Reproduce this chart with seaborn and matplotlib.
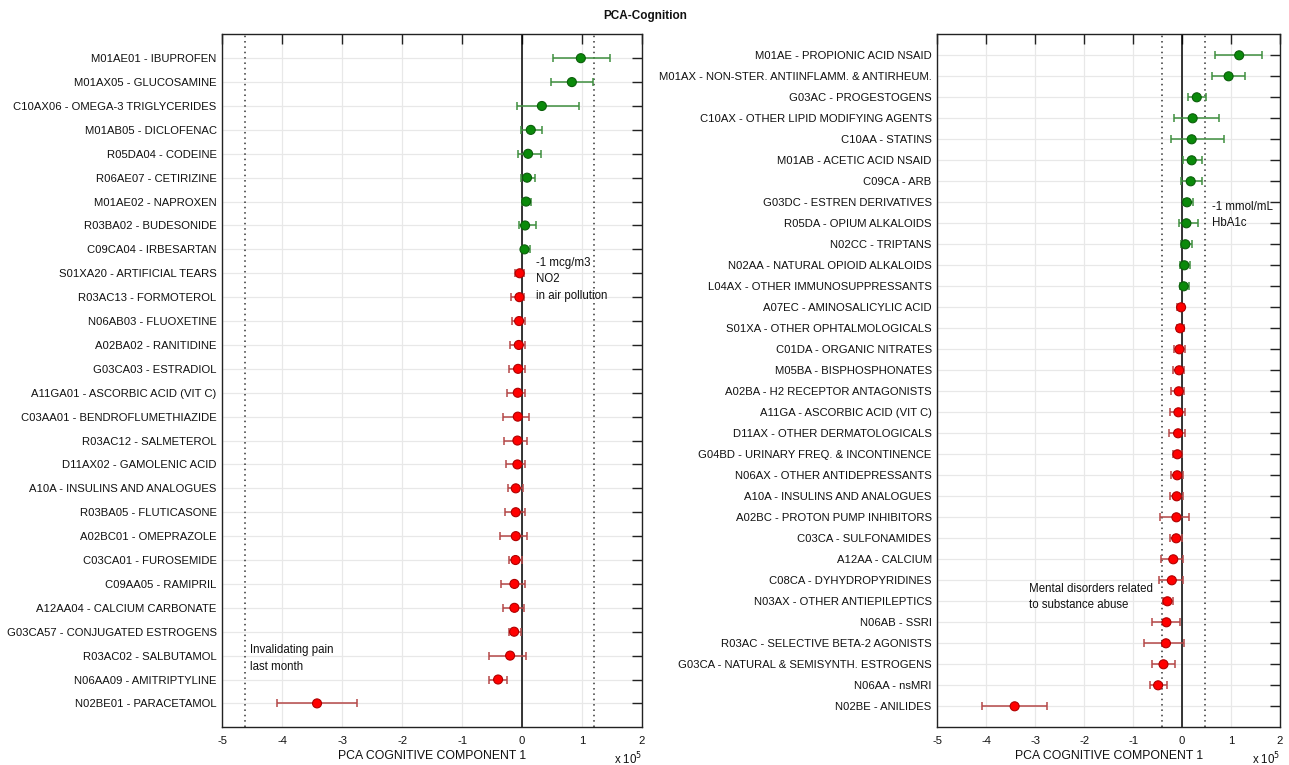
import numpy as np
import pandas as pd
import matplotlib
matplotlib.use("Agg")
import matplotlib.pyplot as plt
import seaborn as sns

# ---------------- data (units of 1e5) ----------------
left_labels = [
    "M01AE01 - IBUPROFEN", "M01AX05 - GLUCOSAMINE", "C10AX06 - OMEGA-3 TRIGLYCERIDES",
    "M01AB05 - DICLOFENAC", "R05DA04 - CODEINE", "R06AE07 - CETIRIZINE",
    "M01AE02 - NAPROXEN", "R03BA02 - BUDESONIDE", "C09CA04 - IRBESARTAN",
    "S01XA20 - ARTIFICIAL TEARS", "R03AC13 - FORMOTEROL", "N06AB03 - FLUOXETINE",
    "A02BA02 - RANITIDINE", "G03CA03 - ESTRADIOL", "A11GA01 - ASCORBIC ACID (VIT C)",
    "C03AA01 - BENDROFLUMETHIAZIDE", "R03AC12 - SALMETEROL", "D11AX02 - GAMOLENIC ACID",
    "A10A - INSULINS AND ANALOGUES", "R03BA05 - FLUTICASONE", "A02BC01 - OMEPRAZOLE",
    "C03CA01 - FUROSEMIDE", "C09AA05 - RAMIPRIL", "A12AA04 - CALCIUM CARBONATE",
    "G03CA57 - CONJUGATED ESTROGENS", "R03AC02 - SALBUTAMOL", "N06AA09 - AMITRIPTYLINE",
    "N02BE01 - PARACETAMOL",
]
left_est = [0.98, 0.83, 0.33, 0.145, 0.10, 0.083, 0.067, 0.05, 0.04,
            -0.04, -0.045, -0.05, -0.055, -0.067, -0.072, -0.072, -0.078, -0.078,
            -0.105, -0.105, -0.105, -0.11, -0.128, -0.128, -0.133, -0.20, -0.40, -3.42]
left_lo = [0.51, 0.48, -0.09, -0.02, -0.06, -0.02, 0.0, -0.055, 0.0,
           -0.12, -0.18, -0.17, -0.20, -0.22, -0.255, -0.32, -0.30, -0.26,
           -0.23, -0.29, -0.37, -0.22, -0.35, -0.32, -0.22, -0.55, -0.55, -4.08]
left_hi = [1.46, 1.19, 0.955, 0.33, 0.32, 0.21, 0.155, 0.23, 0.14,
           0.03, 0.033, 0.05, 0.05, 0.045, 0.05, 0.11, 0.08, 0.05,
           0.017, 0.05, 0.08, 0.0, 0.05, 0.033, -0.017, 0.067, -0.25, -2.76]
left_thresholds = [-4.62, 1.195]

right_labels = [
    "M01AE - PROPIONIC ACID NSAID", "M01AX - NON-STER. ANTIINFLAMM. & ANTIRHEUM.",
    "G03AC - PROGESTOGENS", "C10AX - OTHER LIPID MODIFYING AGENTS", "C10AA - STATINS",
    "M01AB - ACETIC ACID NSAID", "C09CA - ARB", "G03DC - ESTREN DERIVATIVES",
    "R05DA - OPIUM ALKALOIDS", "N02CC - TRIPTANS", "N02AA - NATURAL OPIOID ALKALOIDS",
    "L04AX - OTHER IMMUNOSUPPRESSANTS", "A07EC - AMINOSALICYLIC ACID",
    "S01XA - OTHER OPHTALMOLOGICALS", "C01DA - ORGANIC NITRATES", "M05BA - BISPHOSPHONATES",
    "A02BA - H2 RECEPTOR ANTAGONISTS", "A11GA - ASCORBIC ACID (VIT C)",
    "D11AX - OTHER DERMATOLOGICALS", "G04BD - URINARY FREQ. & INCONTINENCE",
    "N06AX - OTHER ANTIDEPRESSANTS", "A10A - INSULINS AND ANALOGUES",
    "A02BC - PROTON PUMP INHIBITORS", "C03CA - SULFONAMIDES", "A12AA - CALCIUM",
    "C08CA - DYHYDROPYRIDINES", "N03AX - OTHER ANTIEPILEPTICS", "N06AB - SSRI",
    "R03AC - SELECTIVE BETA-2 AGONISTS", "G03CA - NATURAL & SEMISYNTH. ESTROGENS",
    "N06AA - nsMRI", "N02BE - ANILIDES",
]
right_est = [1.166, 0.95, 0.30, 0.216, 0.196, 0.196, 0.176, 0.10, 0.088, 0.067, 0.047, 0.033,
             -0.02, -0.04, -0.055, -0.06, -0.068, -0.075, -0.082, -0.096, -0.10, -0.11,
             -0.116, -0.12, -0.18, -0.21, -0.30, -0.32, -0.33, -0.38, -0.49, -3.42]
right_lo = [0.68, 0.617, 0.128, -0.157, -0.23, 0.013, -0.02, 0.013, -0.07, -0.02, -0.04, -0.04,
            -0.10, -0.11, -0.157, -0.19, -0.22, -0.24, -0.27, -0.19, -0.23, -0.24,
            -0.45, -0.24, -0.44, -0.48, -0.40, -0.61, -0.78, -0.61, -0.66, -4.08]
right_hi = [1.64, 1.29, 0.48, 0.75, 0.855, 0.40, 0.40, 0.23, 0.32, 0.196, 0.17, 0.15,
            0.047, 0.04, 0.06, 0.047, 0.047, 0.067, 0.06, 0.0, 0.02, 0.013,
            0.14, 0.0, 0.027, 0.027, -0.19, -0.035, 0.047, -0.14, -0.30, -2.75]
right_thresholds = [-0.415, 0.47]

x_ticks = [-5, -4, -3, -2, -1, 0, 1, 2]
title = "PCA-Cognition"
xlabel = "PCA COGNITIVE COMPONENT 1"

# ---------------- style ----------------
sns.set_theme(style="white")
plt.rcParams["font.family"] = ["Liberation Sans", "DejaVu Sans"]
plt.rcParams["axes.edgecolor"] = "#222222"
plt.rcParams["axes.linewidth"] = 1.0

GREEN_FILL, GREEN_EDGE, GREEN_BAR = "#0a8a0a", "#0b5e0b", "#3f8f3f"
RED_FILL, RED_EDGE, RED_BAR = "#ff0000", "#b00000", "#b54848"

fig = plt.figure(figsize=(12.89, 7.65), dpi=100)
W, H = 1289, 765
axL = fig.add_axes([222.3 / W, 1 - 727.3 / H, (642 - 222.3) / W, (727.3 - 34.3) / H])
axR = fig.add_axes([937.3 / W, 1 - 727.3 / H, (1280 - 937.3) / W, (727.3 - 34.3) / H])


def draw(ax, labels, est, lo, hi, thresholds):
    n = len(labels)
    df = pd.DataFrame({"label": labels, "est": est, "lo": lo, "hi": hi})
    df["pos"] = np.arange(n)
    df["sign"] = np.where(df["est"] > 0, "pos", "neg")

    # grid
    for xv in x_ticks:
        ax.axvline(xv, color="#e8e8e8", lw=0.9, zorder=0)
    for yv in df["pos"]:
        ax.axhline(yv, color="#e8e8e8", lw=0.9, zorder=0)

    # reference lines
    ax.axvline(0, color="black", lw=1.1, zorder=1)
    for t in thresholds:
        ax.axvline(t, color="#333333", lw=1.1, ls=(0, (1, 2.5)), zorder=1)

    # error bars
    for sign, barc in (("pos", GREEN_BAR), ("neg", RED_BAR)):
        sub = df[df["sign"] == sign]
        ax.errorbar(sub["est"], sub["pos"],
                    xerr=[sub["est"] - sub["lo"], sub["hi"] - sub["est"]],
                    fmt="none", ecolor=barc, elinewidth=1.1, capsize=3.2,
                    capthick=1.1, zorder=2)

    sns.scatterplot(data=df, x="est", y="pos", hue="sign",
                    palette={"pos": GREEN_FILL, "neg": RED_FILL},
                    s=42, linewidth=0.8, legend=False, ax=ax, zorder=3)
    cols = ax.collections[-1]
    cols.set_edgecolors([GREEN_EDGE if s == "pos" else RED_EDGE for s in df["sign"]])

    ax.set_xlim(-5, 2)
    ax.set_ylim(n, -1)
    ax.set_xticks(x_ticks)
    ax.set_xticklabels([str(v) for v in x_ticks])
    ax.set_yticks(df["pos"])
    ax.set_yticklabels(labels)
    ax.tick_params(axis="both", direction="in", length=7, width=1.0, color="#222222",
                   top=True, right=True, labelsize=8.1, labelcolor="#111111", pad=4)
    ax.tick_params(axis="x", pad=6)
    ax.set_xlabel(xlabel, fontsize=8.8, color="#111111", labelpad=3)
    ax.set_ylabel("")
    for sp in ax.spines.values():
        sp.set_visible(True)
        sp.set_color("#222222")
    ax.text(1.0, -0.034, r"x 10$^5$", transform=ax.transAxes, ha="right", va="top",
            fontsize=8.3, color="#111111")


draw(axL, left_labels, left_est, left_lo, left_hi, left_thresholds)
draw(axR, right_labels, right_est, right_lo, right_hi, right_thresholds)

txt_kw = dict(fontsize=8.3, color="#111111", ha="left", va="center", linespacing=1.45, zorder=4)
axL.text(0.233, 9.26, "-1 mcg/m3\nNO2\nin air pollution", **txt_kw)
axL.text(-4.545, 25.12, "Invalidating pain\nlast month", **txt_kw)
axR.text(0.61, 7.61, "-1 mmol/mL\nHbA1c", **txt_kw)
axR.text(-3.127, 25.8, "Mental disorders related\nto substance abuse", **txt_kw)

fig.text(645 / W, 1 - 16 / H, title, ha="center", va="center", fontsize=8.5,
         fontweight="bold", color="#111111")

fig.savefig("out.png", dpi=100)
